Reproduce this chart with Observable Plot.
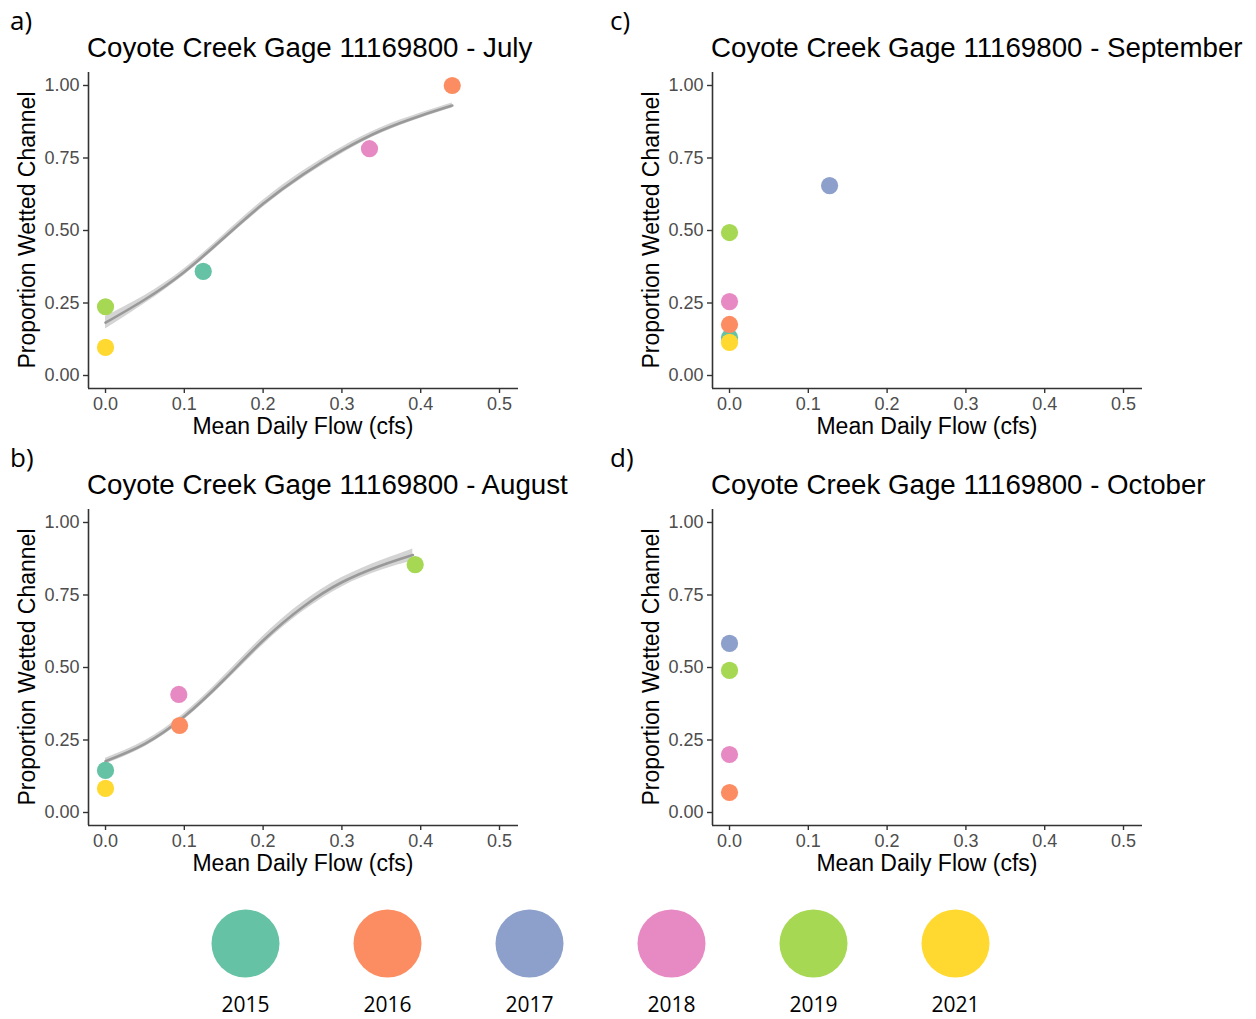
<!DOCTYPE html>
<html>
<head>
<meta charset="utf-8">
<script src="https://cdn.jsdelivr.net/npm/d3@7"></script>
<script src="https://cdn.jsdelivr.net/npm/@observablehq/plot@0.6"></script>
<style>
  html, body { margin: 0; padding: 0; background: #fff; }
  #root { position: relative; width: 1256px; height: 1019px; overflow: hidden; background: #fff; }
  #root > svg, #root > div { position: absolute; }
</style>
</head>
<body>
<div id="root"></div>
<script>
// ---------- data ----------
const years = ["2015", "2016", "2017", "2018", "2019", "2021"];
const yearColors = ["#66c2a5", "#fc8d62", "#8da0cb", "#e78ac3", "#a6d854", "#ffd92f"];

const months = ["July", "August", "September", "October"];
const panelLetters = ["a)", "b)", "c)", "d)"];

const xTicks = [0, 0.1, 0.2, 0.3, 0.4, 0.5];
const yTicks = [0, 0.25, 0.5, 0.75, 1];

// July
const julyYear = ["2015", "2016", "2018", "2019", "2021"];
const julyFlow = [0.124, 0.440, 0.335, 0.0, 0.0];
const julyProp = [0.359, 1.0, 0.782, 0.237, 0.097];
// August
const augYear = ["2015", "2016", "2018", "2019", "2021"];
const augFlow = [0.0, 0.094, 0.093, 0.393, 0.0];
const augProp = [0.145, 0.300, 0.407, 0.855, 0.083];
// September
const sepYear = ["2015", "2016", "2017", "2018", "2019", "2021"];
const sepFlow = [0.0, 0.0, 0.127, 0.0, 0.0, 0.0];
const sepProp = [0.131, 0.176, 0.655, 0.255, 0.493, 0.114];
// October
const octYear = ["2016", "2017", "2018", "2019"];
const octFlow = [0.0, 0.0, 0.0, 0.0];
const octProp = [0.069, 0.583, 0.200, 0.490];

// fitted curves
const julyFitX  = [0, 0.05, 0.1, 0.15, 0.2, 0.25, 0.3, 0.35, 0.4, 0.44];
const julyFitY  = [0.182, 0.262, 0.357, 0.474, 0.592, 0.692, 0.776, 0.845, 0.896, 0.931];
const julyFitLo = [0.160, 0.248, 0.346, 0.463, 0.580, 0.680, 0.765, 0.835, 0.887, 0.922];
const julyFitHi = [0.204, 0.276, 0.368, 0.485, 0.604, 0.704, 0.787, 0.855, 0.905, 0.940];

const augFitX  = [0, 0.05, 0.1, 0.15, 0.2, 0.25, 0.3, 0.35, 0.39];
const augFitY  = [0.177, 0.237, 0.331, 0.457, 0.593, 0.708, 0.794, 0.852, 0.888];
const augFitLo = [0.167, 0.227, 0.320, 0.444, 0.578, 0.692, 0.778, 0.835, 0.867];
const augFitHi = [0.187, 0.247, 0.342, 0.470, 0.608, 0.724, 0.810, 0.869, 0.909];

// ---------- helpers ----------
const zip = (yr, fx, py) => yr.map((y, i) => ({year: y, flow: fx[i], prop: py[i]}));
const fit = (xs, ys, lo, hi) => xs.map((x, i) => ({x, y: ys[i], lo: lo[i], hi: hi[i]}));

const panels = [
  {pts: zip(julyYear, julyFlow, julyProp), fit: fit(julyFitX, julyFitY, julyFitLo, julyFitHi), dx: 0, dy: 0, lx: 10},
  {pts: zip(augYear, augFlow, augProp), fit: fit(augFitX, augFitY, augFitLo, augFitHi), dx: 0, dy: 437, lx: 10},
  {pts: zip(sepYear, sepFlow, sepProp), fit: null, dx: 624, dy: 0, lx: 610},
  {pts: zip(octYear, octFlow, octProp), fit: null, dx: 624, dy: 437, lx: 610}
];

const FONT = "'Liberation Sans', Arial, Helvetica, sans-serif";
const root = document.getElementById("root");

const xDom = [-0.0216, 0.5241];
const yDom = [-0.0448, 1.0448];

panels.forEach((p) => {
  const marks = [];
  if (p.fit) {
    marks.push(Plot.areaY(p.fit, {x: "x", y1: "lo", y2: "hi", curve: "natural", fill: "#d4d4d4"}));
    marks.push(Plot.line(p.fit, {x: "x", y: "y", curve: "natural", stroke: "#999999", strokeWidth: 2.6}));
  }
  marks.push(Plot.dot(p.pts, {x: "flow", y: "prop", fill: "year", r: 8.6}));
  marks.push(Plot.ruleX([xDom[0]], {stroke: "#333", strokeWidth: 1.6}));
  marks.push(Plot.ruleY([yDom[0]], {stroke: "#333", strokeWidth: 1.6}));
  marks.push(Plot.axisX({ticks: xTicks, tickFormat: ".1f", tickSize: 5, tickPadding: 4,
    stroke: "#333", strokeWidth: 1.4, fill: "#4d4d4d", fontSize: 18, label: null}));
  marks.push(Plot.axisY({ticks: yTicks, tickFormat: ".2f", tickSize: 5, tickPadding: 4,
    stroke: "#333", strokeWidth: 1.4, fill: "#4d4d4d", fontSize: 18, label: null}));

  const svg = Plot.plot({
    width: 560, height: 380,
    marginLeft: 88, marginRight: 42, marginTop: 12, marginBottom: 52,
    x: {domain: xDom},
    y: {domain: yDom},
    color: {domain: years, range: yearColors},
    style: {fontFamily: FONT, fontSize: "18px", background: "transparent", overflow: "visible"},
    marks
  });
  svg.style.left = (0 + p.dx) + "px";
  svg.style.top = (60 + p.dy) + "px";
  root.appendChild(svg);
});

// ---------- text overlay (titles, panel letters, axis titles) ----------
const overlay = d3.select(root).append("svg")
  .attr("width", 1256).attr("height", 1019)
  .style("left", "0px").style("top", "0px").style("pointer-events", "none");

panels.forEach((p, i) => {
  overlay.append("text")
    .attr("x", p.lx).attr("y", 30 + p.dy)
    .attr("font-family", "'Open Sans', 'Noto Sans', sans-serif")
    .attr("font-size", 26).attr("fill", "#000")
    .text(panelLetters[i]);
  overlay.append("text")
    .attr("x", 87 + p.dx).attr("y", 57 + p.dy)
    .attr("font-family", FONT).attr("font-size", 27.7).attr("fill", "#000")
    .text("Coyote Creek Gage 11169800 - " + months[i]);
  overlay.append("text")
    .attr("x", 303 + p.dx).attr("y", 434 + p.dy)
    .attr("text-anchor", "middle")
    .attr("font-family", FONT).attr("font-size", 23).attr("fill", "#000")
    .text("Mean Daily Flow (cfs)");
  overlay.append("text")
    .attr("transform", `translate(${35 + p.dx},${230 + p.dy}) rotate(-90)`)
    .attr("text-anchor", "middle")
    .attr("font-family", FONT).attr("font-size", 23).attr("fill", "#000")
    .text("Proportion Wetted Channel");
});

// ---------- legend ----------
const legend = Plot.plot({
  width: 1256, height: 129,
  marginLeft: 0, marginRight: 0, marginTop: 0, marginBottom: 23,
  x: {type: "point", domain: years, range: [244, 956], padding: 0, axis: null},
  color: {domain: years, range: yearColors},
  style: {background: "transparent", overflow: "visible"},
  marks: [
    Plot.dot(years, {x: d => d, fill: d => d, r: 34}),
    Plot.text(years, {x: d => d, text: d => d, dy: 62, fontSize: 21,
      fontFamily: "'Open Sans', 'Noto Sans', sans-serif", fill: "#000"})
  ]
});
legend.style.left = "0px";
legend.style.top = "890px";
root.appendChild(legend);
</script>
</body>
</html>
